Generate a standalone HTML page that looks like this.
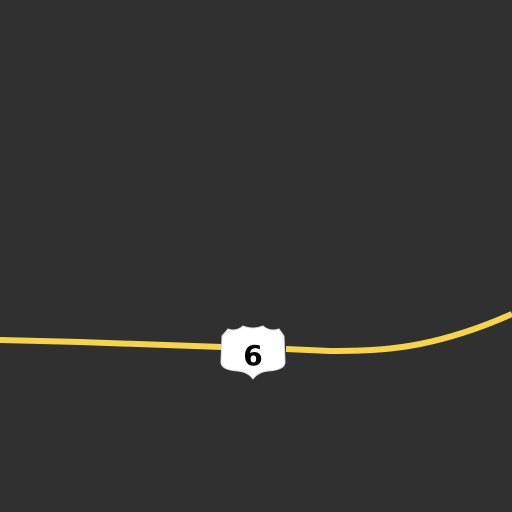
<!DOCTYPE html>
<html><head><meta charset="utf-8"><style>
html,body{margin:0;padding:0;background:#303030;}
svg{display:block}
</style></head><body>
<svg width="512" height="512" viewBox="0 0 512 512">
<rect width="512" height="512" fill="#303030"/>
<path d="M0,340 L80,342 L222,347 M286,349 L330,351 C370,351 395,349 420,344 C455,337 485,326 512,314" fill="none" stroke="#f6d44a" stroke-width="6"/>
<g>
<path d="M228,329 Q236,332 243,326 Q253,330 263,326 Q270,332 279,329 L284,336 L285,362 Q285,370 268,371 Q258,372 253,379 Q248,372 238,371 Q221,370 221,362 L222,336 Z" fill="#ffffff" stroke="#dcdcdc" stroke-width="1"/>
<text x="253" y="365" text-anchor="middle" font-family="'DejaVu Sans','Liberation Sans',sans-serif" font-weight="bold" font-size="28" fill="#000">6</text>
</g>
</svg>
</body></html>
